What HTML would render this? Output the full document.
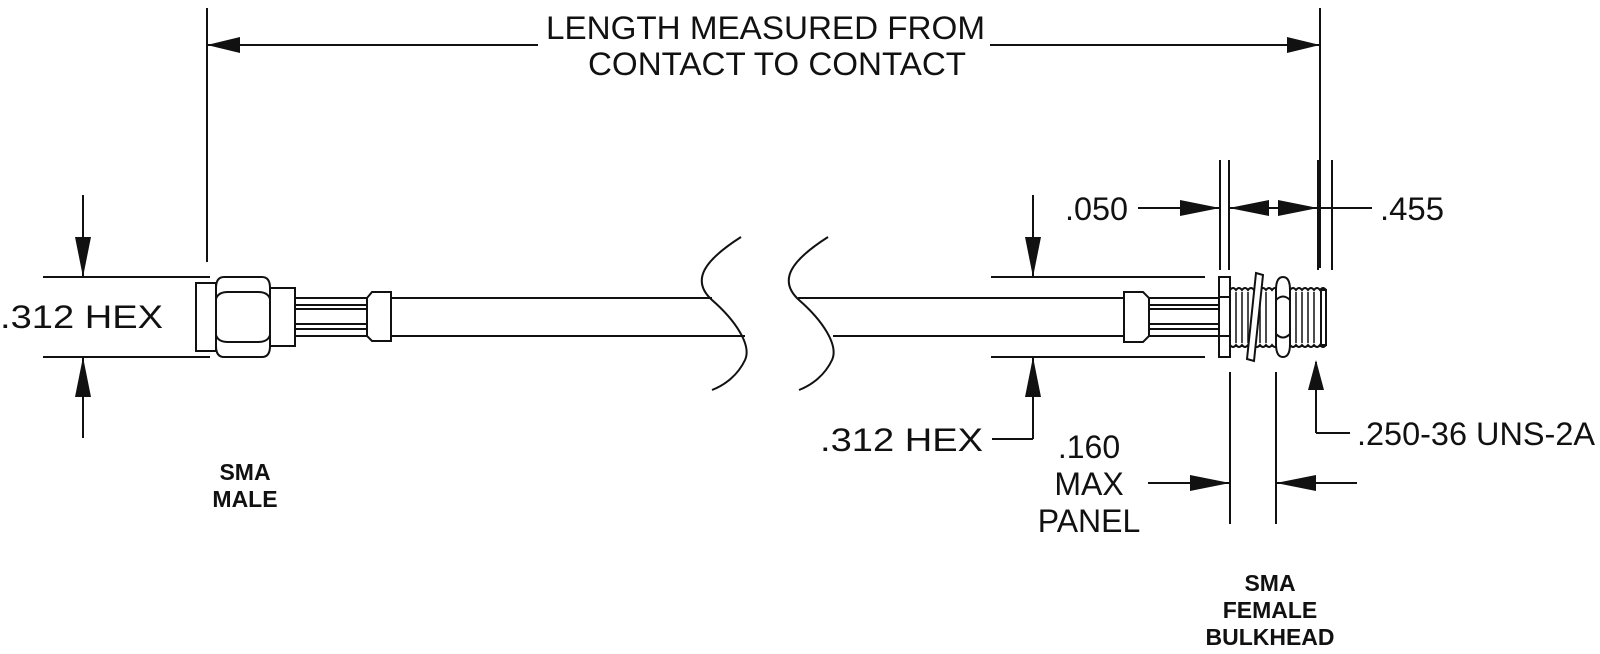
<!DOCTYPE html>
<html><head><meta charset="utf-8"><style>
html,body{margin:0;padding:0;background:#fff;}
svg{display:block;}
text{font-family:"Liberation Sans",sans-serif;fill:#111;}
.t{font-size:32px;}
.b{font-size:23px;font-weight:bold;}
</style></head><body>
<svg width="1600" height="654" viewBox="0 0 1600 654" xmlns="http://www.w3.org/2000/svg">
<g stroke="#111" stroke-width="2" fill="none">
<!-- top dimension -->
<line x1="207" y1="8" x2="207" y2="262"/>
<line x1="1320" y1="8" x2="1320" y2="268"/>
<line x1="207" y1="45" x2="538" y2="45"/>
<line x1="990" y1="45" x2="1320" y2="45"/>
<!-- left hex dims -->
<line x1="43" y1="277" x2="210" y2="277"/>
<line x1="43" y1="357" x2="210" y2="357"/>
<line x1="83" y1="195" x2="83" y2="277"/>
<line x1="83" y1="357" x2="83" y2="438"/>
<!-- left connector -->
<rect x="196" y="283" width="20" height="68"/>
<path d="M224 277 H262 Q270 277 270 288 V346 Q270 357 262 357 H224 Q216 357 216 346 V288 Q216 277 224 277 Z"/>
<path d="M216 299 Q218 292 228 292 H258 Q268 292 270 299"/>
<path d="M216 335 Q218 342 228 342 H258 Q268 342 270 335"/>
<rect x="270" y="288" width="25" height="58"/>
<line x1="295" y1="298" x2="367" y2="298"/>
<line x1="295" y1="305" x2="367" y2="305"/>
<line x1="295" y1="309" x2="367" y2="309"/>
<line x1="295" y1="324" x2="367" y2="324"/>
<line x1="295" y1="329" x2="367" y2="329"/>
<line x1="295" y1="336" x2="367" y2="336"/>
<path d="M367 298 L372 292 H391 V341 H372 L367 336 Z"/>
<line x1="391" y1="298" x2="712" y2="298"/>
<line x1="391" y1="336" x2="745" y2="336"/>
<!-- breaks -->
<path d="M741 237 C705 260 690 280 712 300 C735 320 752 345 745 360 C738 375 725 385 712 390"/>
<path d="M828 237 C792 260 777 280 799 300 C822 320 839 345 832 360 C825 375 812 385 799 390"/>
<line x1="798" y1="298" x2="1124" y2="298"/>
<line x1="833" y1="336" x2="1124" y2="336"/>
<!-- right connector -->
<path d="M1124 292 H1143 L1149 298 V336 L1143 342 H1124 Z"/>
<line x1="1149" y1="298" x2="1219" y2="298"/>
<line x1="1149" y1="305" x2="1219" y2="305"/>
<line x1="1149" y1="309" x2="1219" y2="309"/>
<line x1="1149" y1="324" x2="1219" y2="324"/>
<line x1="1149" y1="329" x2="1219" y2="329"/>
<line x1="1149" y1="336" x2="1219" y2="336"/>
<rect x="1219" y="277" width="11" height="80"/>
<line x1="1219" y1="297" x2="1230" y2="297"/>
<line x1="1219" y1="336" x2="1230" y2="336"/>
<path d="M1230 290 q3 -4 6 0 q3 -4 6 0 q3 -4 6 0 q3 -4 6 0 q3 -4 6 0 q3 -4 6 0 q3 -4 6 0 q3 -4 6 0 q3 -4 6 0 q3 -4 6 0 q3 -4 6 0 q3 -4 6 0 q3 -4 6 0 q3 -4 6 0 q3 -4 6 0 q3 -4 6 0 V345 q-3 4 -6 0 q-3 4 -6 0 q-3 4 -6 0 q-3 4 -6 0 q-3 4 -6 0 q-3 4 -6 0 q-3 4 -6 0 q-3 4 -6 0 q-3 4 -6 0 q-3 4 -6 0 q-3 4 -6 0 q-3 4 -6 0 q-3 4 -6 0 q-3 4 -6 0 q-3 4 -6 0 q-3 4 -6 0 Z" fill="#fff"/>
<g stroke-width="1.5"><line x1="1236" y1="292" x2="1236" y2="343"/><line x1="1242" y1="292" x2="1242" y2="343"/><line x1="1248" y1="292" x2="1248" y2="343"/><line x1="1260" y1="292" x2="1260" y2="343"/><line x1="1266" y1="292" x2="1266" y2="343"/><line x1="1296" y1="292" x2="1296" y2="343"/><line x1="1302" y1="292" x2="1302" y2="343"/><line x1="1308" y1="292" x2="1308" y2="343"/><line x1="1314" y1="292" x2="1314" y2="343"/></g>
<rect x="1321" y="290" width="5" height="55" fill="#fff"/>
<path d="M1256 273 L1263 275 L1254 361 L1247 359 Z" fill="#fff"/>
<path d="M1283 277 Q1290 277 1290 290 V344 Q1290 357 1283 357 Q1276 357 1276 344 V290 Q1276 277 1283 277 Z" fill="#fff"/>
<path d="M1276 300 Q1283 293 1290 300 M1276 334 Q1283 341 1290 334"/>
<!-- right dims -->
<line x1="991" y1="277" x2="1205" y2="277"/>
<line x1="991" y1="357" x2="1205" y2="357"/>
<line x1="1033" y1="195" x2="1033" y2="277"/>
<line x1="1033" y1="357" x2="1033" y2="439"/>
<line x1="992" y1="439" x2="1033" y2="439"/>
<line x1="1220" y1="160" x2="1220" y2="270"/>
<line x1="1229" y1="160" x2="1229" y2="270"/>
<line x1="1318" y1="160" x2="1318" y2="270"/>
<line x1="1332" y1="160" x2="1332" y2="270"/>
<line x1="1138" y1="208" x2="1220" y2="208"/>
<line x1="1229" y1="208" x2="1372" y2="208"/>
<line x1="1230" y1="372" x2="1230" y2="524"/>
<line x1="1276" y1="372" x2="1276" y2="524"/>
<line x1="1148" y1="483" x2="1230" y2="483"/>
<line x1="1276" y1="483" x2="1357" y2="483"/>
<line x1="1316" y1="362" x2="1316" y2="433"/>
<line x1="1316" y1="433" x2="1350" y2="433"/>
</g>
<g fill="#111">
<path d="M207 45 L240 37 L240 53 Z"/>
<path d="M1320 45 L1287 37 L1287 53 Z"/>
<path d="M83 277 L75 237 L91 237 Z"/>
<path d="M83 357 L75 397 L91 397 Z"/>
<path d="M1033 277 L1025 237 L1041 237 Z"/>
<path d="M1033 357 L1025 397 L1041 397 Z"/>
<path d="M1220 208 L1180 200 L1180 216 Z"/>
<path d="M1229 208 L1269 200 L1269 216 Z"/>
<path d="M1318 208 L1278 200 L1278 216 Z"/>
<path d="M1230 483 L1190 475 L1190 491 Z"/>
<path d="M1276 483 L1316 475 L1316 491 Z"/>
<path d="M1316 360 L1308 390 L1324 390 Z"/>
</g>
<text class="t" x="546" y="39" textLength="439" lengthAdjust="spacingAndGlyphs">LENGTH MEASURED FROM</text>
<text class="t" x="588" y="75" textLength="378" lengthAdjust="spacingAndGlyphs">CONTACT TO CONTACT</text>
<text class="t" x="0" y="328" textLength="163" lengthAdjust="spacingAndGlyphs">.312 HEX</text>
<text class="t" x="820" y="451" textLength="163" lengthAdjust="spacingAndGlyphs">.312 HEX</text>
<text class="t" x="1065" y="220" textLength="63" lengthAdjust="spacingAndGlyphs">.050</text>
<text class="t" x="1380" y="220" textLength="64" lengthAdjust="spacingAndGlyphs">.455</text>
<text class="t" x="1089" y="458" text-anchor="middle">.160</text>
<text class="t" x="1089" y="495" text-anchor="middle">MAX</text>
<text class="t" x="1089" y="532" text-anchor="middle">PANEL</text>
<text class="t" x="1357" y="445" textLength="238" lengthAdjust="spacingAndGlyphs">.250-36 UNS-2A</text>
<text class="b" x="245" y="480" text-anchor="middle">SMA</text>
<text class="b" x="245" y="507" text-anchor="middle">MALE</text>
<text class="b" x="1270" y="591" text-anchor="middle">SMA</text>
<text class="b" x="1270" y="618" text-anchor="middle">FEMALE</text>
<text class="b" x="1270" y="645" text-anchor="middle">BULKHEAD</text>
</svg>
</body></html>
